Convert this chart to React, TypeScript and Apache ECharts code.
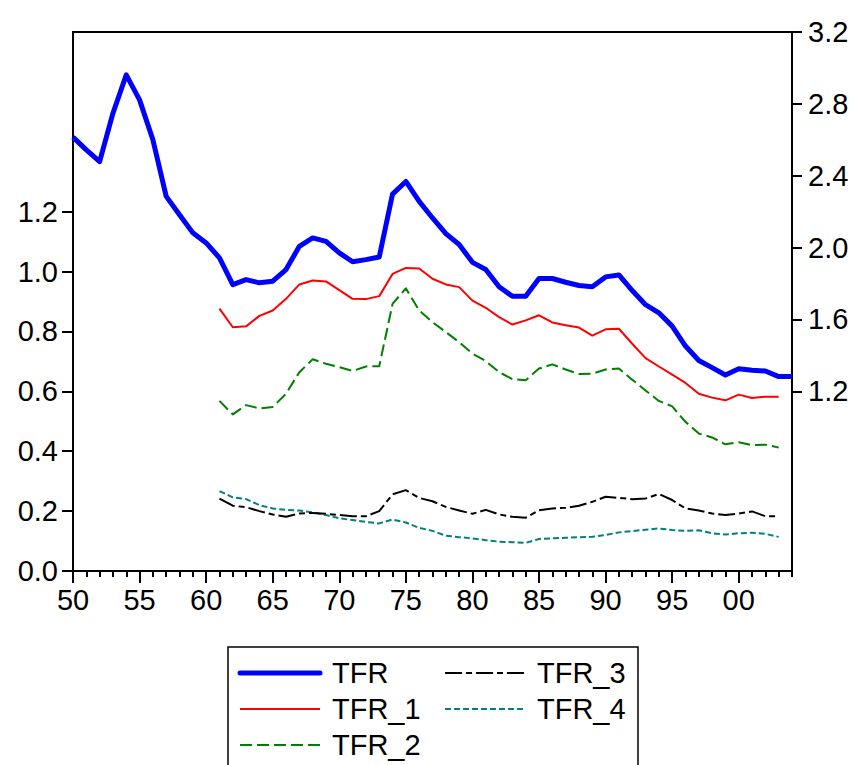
import React, { useEffect, useRef } from "react";
import * as echarts from "echarts";

const years = [1950,1951,1952,1953,1954,1955,1956,1957,1958,1959,1960,1961,1962,1963,1964,1965,1966,1967,1968,1969,1970,1971,1972,1973,1974,1975,1976,1977,1978,1979,1980,1981,1982,1983,1984,1985,1986,1987,1988,1989,1990,1991,1992,1993,1994,1995,1996,1997,1998,1999,2000,2001,2002,2003,2004];

// TFR (right axis), 1950-2004
const tfr = [2.615,2.544,2.479,2.748,2.961,2.822,2.600,2.285,2.183,2.082,2.026,1.943,1.794,1.822,1.804,1.813,1.878,2.007,2.054,2.035,1.971,1.921,1.933,1.948,2.298,2.368,2.257,2.165,2.078,2.017,1.918,1.878,1.782,1.729,1.729,1.828,1.828,1.807,1.789,1.782,1.837,1.848,1.761,1.682,1.637,1.563,1.452,1.372,1.332,1.291,1.326,1.317,1.313,1.282,1.282];
const tfrStart = 1950;

// components (left axis), 1961-2003
const compStart = 1961;
const tfr1 = [0.876,0.814,0.817,0.852,0.870,0.909,0.957,0.970,0.967,0.938,0.909,0.908,0.918,0.992,1.012,1.010,0.976,0.957,0.948,0.903,0.879,0.848,0.823,0.837,0.854,0.830,0.821,0.813,0.786,0.807,0.809,0.759,0.711,0.683,0.656,0.628,0.592,0.579,0.570,0.589,0.578,0.582,0.582];
const tfr2 = [0.568,0.523,0.554,0.543,0.548,0.592,0.664,0.707,0.692,0.681,0.668,0.683,0.684,0.892,0.944,0.870,0.831,0.798,0.764,0.726,0.701,0.664,0.641,0.637,0.676,0.690,0.673,0.658,0.659,0.673,0.676,0.639,0.603,0.568,0.550,0.498,0.459,0.446,0.423,0.430,0.420,0.422,0.412];
const tfr3 = [0.242,0.218,0.213,0.200,0.189,0.181,0.192,0.194,0.191,0.187,0.183,0.183,0.200,0.256,0.270,0.244,0.233,0.214,0.202,0.191,0.204,0.189,0.181,0.178,0.203,0.209,0.211,0.218,0.231,0.248,0.244,0.240,0.242,0.257,0.237,0.209,0.202,0.192,0.187,0.192,0.199,0.183,0.183];
const tfr4 = [0.267,0.246,0.240,0.220,0.209,0.204,0.202,0.196,0.187,0.176,0.170,0.164,0.159,0.172,0.162,0.144,0.134,0.118,0.113,0.109,0.103,0.098,0.096,0.094,0.107,0.109,0.111,0.113,0.114,0.120,0.129,0.133,0.138,0.142,0.137,0.134,0.136,0.126,0.122,0.126,0.128,0.124,0.114];

const seriesNames = ["TFR", "TFR_1", "TFR_2", "TFR_3", "TFR_4"];

const xMajorTicks = [1950,1955,1960,1965,1970,1975,1980,1985,1990,1995,2000];
const leftTicks = [0, 0.2, 0.4, 0.6, 0.8, 1.0, 1.2];
const rightTicks = [1.2, 1.6, 2.0, 2.4, 2.8, 3.2];

const FONT = "Liberation Sans, Arial, sans-serif";
const FS = 29;

function pairs(start: number, vals: number[]) {
  const yi = years.indexOf(start);
  return vals.map((v, i) => [years[yi + i], v]);
}

const styles = [
  { color: "#0000FF", width: 5, type: "solid" as any },
  { color: "#FF0000", width: 2, type: "solid" as any },
  { color: "#008000", width: 2, type: [12, 5] as any },
  { color: "#000000", width: 2, type: [17, 4, 6, 4] as any },
  { color: "#008080", width: 2, type: [6, 3] as any },
];

export default function App() {
  const ref = useRef<HTMLDivElement>(null);
  useEffect(() => {
    if (!ref.current) return;
    const chart = echarts.init(ref.current, undefined, { renderer: "svg" });
    const dataSets = [
      pairs(tfrStart, tfr),
      pairs(compStart, tfr1),
      pairs(compStart, tfr2),
      pairs(compStart, tfr3),
      pairs(compStart, tfr4),
    ];
    const legendPos = [
      { x: 240, y: 673, tx: 332 },
      { x: 240, y: 709, tx: 332 },
      { x: 240, y: 745, tx: 332 },
      { x: 445, y: 673, tx: 537 },
      { x: 445, y: 709, tx: 537 },
    ];
    const graphic: any[] = [
      {
        type: "rect",
        shape: { x: 228, y: 647, width: 410, height: 140 },
        style: { fill: "#fff", stroke: "#000", lineWidth: 1.5 },
        z: 10,
      },
    ];
    seriesNames.forEach((n, i) => {
      const p = legendPos[i];
      const s = styles[i];
      graphic.push({
        type: "line",
        shape: { x1: p.x, y1: p.y, x2: p.x + 80, y2: p.y },
        style: {
          stroke: s.color,
          lineWidth: s.width,
          lineDash: Array.isArray(s.type) ? s.type : null,
          lineCap: i === 0 ? "round" : "butt",
        },
        z: 11,
      });
      graphic.push({
        type: "text",
        x: p.tx,
        y: p.y,
        style: {
          text: n,
          fill: "#000",
          font: `${FS}px ${FONT}`,
          verticalAlign: "middle",
          align: "left",
        },
        z: 11,
      });
    });

    const option: any = {
      animation: false,
      backgroundColor: "#fff",
      textStyle: { fontFamily: FONT },
      grid: {
        left: 73,
        right: 65,
        top: 32,
        bottom: 194,
        show: true,
        borderColor: "#000",
        borderWidth: 2,
        backgroundColor: "transparent",
        containLabel: false,
      },
      xAxis: [
        {
          type: "value",
          min: 1950,
          max: 2004,
          position: "bottom",
          axisLine: { show: true, lineStyle: { color: "#000", width: 2 } },
          axisTick: { show: true, customValues: xMajorTicks, length: 12, lineStyle: { color: "#000", width: 2 } },
          axisLabel: {
            customValues: xMajorTicks,
            formatter: (v: number) => String(Math.round(v) % 100).padStart(2, "0"),
            color: "#000",
            fontSize: FS,
            fontFamily: FONT,
            margin: 14,
          },
          splitLine: { show: false },
        },
        {
          type: "value",
          min: 1950,
          max: 2004,
          position: "bottom",
          axisLine: { show: false },
          axisTick: { show: true, customValues: years, length: 6, lineStyle: { color: "#000", width: 2 } },
          axisLabel: { show: false },
          splitLine: { show: false },
        },
      ],
      yAxis: [
        {
          type: "value",
          min: 0,
          max: 1.8,
          position: "left",
          axisLine: { show: true, lineStyle: { color: "#000", width: 2 } },
          axisTick: { show: true, customValues: leftTicks, length: 11, lineStyle: { color: "#000", width: 2 } },
          axisLabel: {
            customValues: leftTicks,
            formatter: (v: number) => v.toFixed(1),
            color: "#000",
            fontSize: FS,
            fontFamily: FONT,
            margin: 15,
          },
          splitLine: { show: false },
        },
        {
          type: "value",
          min: 0.2,
          max: 3.2,
          position: "right",
          axisLine: { show: true, lineStyle: { color: "#000", width: 2 } },
          axisTick: { show: true, customValues: rightTicks, length: 10, lineStyle: { color: "#000", width: 2 } },
          axisLabel: {
            customValues: rightTicks,
            formatter: (v: number) => v.toFixed(1),
            color: "#000",
            fontSize: FS,
            fontFamily: FONT,
            margin: 16,
          },
          splitLine: { show: false },
        },
      ],
      series: seriesNames.map((n, i) => ({
        name: n,
        type: "line",
        xAxisIndex: 0,
        yAxisIndex: i === 0 ? 1 : 0,
        data: dataSets[i],
        showSymbol: false,
        symbol: "none",
        z: 5 - i,
        lineStyle: {
          color: styles[i].color,
          width: styles[i].width,
          type: styles[i].type,
          join: "round",
        },
      })),
      graphic,
    };
    chart.setOption(option);
    return () => chart.dispose();
  }, []);
  return (
    <div
      ref={ref}
      style={{ position: "absolute", left: 0, top: 0, width: 857, height: 765 }}
    />
  );
}
